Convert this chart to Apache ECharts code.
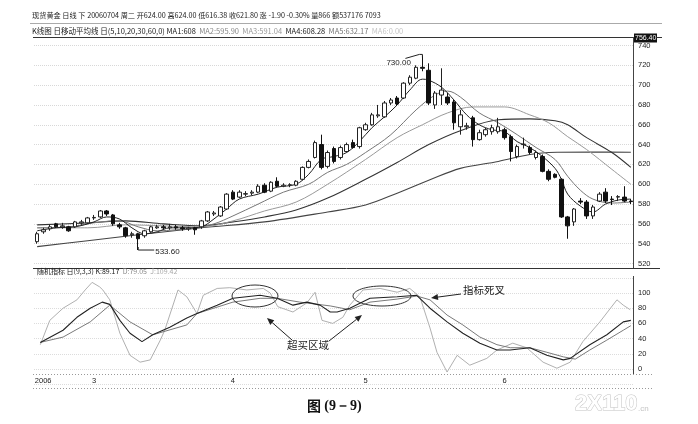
<!DOCTYPE html>
<html><head><meta charset="utf-8">
<script src="https://cdn.jsdelivr.net/npm/echarts@6/dist/echarts.min.js"></script>
<style>html,body{margin:0;padding:0;background:#fff}#c{width:698px;height:424px}</style>
</head><body><div id="c"></div>
<script>
// ---- candle data (one per trading day, Feb–Jul 2006) ----
const opens  = [542,552,555,560,557,557,557,561,561,566,567,573,569,559,556,549,550,548,552,556,557,556,557,556,555,556,557,563,570,568,575,592,587,590,591,592,599,593,603,598,599,599,605,617,627,640,618,636,627,633,642,638,655,660,669,668,682,687,687,702,707,718,715,680,690,688,683,658,658,667,645,650,653,653,655,648,628,640,637,627,628,613,610,605,567,562,583,582,568,583,592,585,587,587,583];
const closes = [550,554,557,557,558,553,562,562,566,566.5,573,570,560,557,548,550,545,553,557,557,556,557,556,555,556,554,563,572,571,577,590,585,592,590.5,592,598,592,602,598,599,599.5,603,617,623,642,617,632,623,637,640,637,657,660,670,670,682,685,681,702,708,718,717,682,692,695,682,662,670,659,645,652,655,657,658,647,633,638,640.5,632,632,613,605,607,567,558,575,582,568,577,590,583,584.5,587.5,583,582.5];
const lows   = [540,550,553,556,555,552,556,559,560,564,566,568,558,555,546,546,533.6,546,551,555,554,554,554,553,553,549,555,562,568,567,574,584,586,588,589,591,591,592,597,597,597,598,604,616,626,615,616,621,625,632,636,636,654,659,667,667,680,679,686,700,706,714,680,676,680,680,655,650,655,638,644,648,650,651,645,623,626,636,630,625,612,603,606,566,545,558,580,565,565,582,581,579,583,582,580];
const highs  = [552,556,559,561,561,558,563,564,567,569,574,574,570,561,557,552,551,554,558,559,559,560,559,558,557,557,564,573,573,578,591,594,594,593,594,600,601,603,607,601,601,604,618,625,644,650,634,638,639,642,645,658,662,672,680,684,687,689,703,710,720,730,722,694,717,692,685,675,662,669,655,657,660,667,657,650,640,647,639,634,630,615,611,606,568,576,586,584,579,592,596,588,589,598,585];

// ---- moving averages: [day index, value] ----
const ma5  = [[0,553],[3,556],[6,557],[9,562],[11,567],[13,565],[15,556],[17,550],[19,552],[21,556],[24,556],[26,557],[28,565],[30,575],[32,585],[35,590],[38,597],[41,600],[43,610],[45,625],[47,628],[49,632],[51,643],[53,657],[55,668],[57,680],[59,695],[61,706],[62,705],[64,698],[66,685],[68,670],[70,660],[72,655],[74,653],[76,643],[78,637],[80,628],[82,616],[83,605],[84,590],[86,578],[88,572],[90,580],[92,584],[94,585]];
const ma10 = [[0,556],[5,557],[10,562],[13,563],[16,557],[19,553],[22,554],[25,556],[28,560],[31,568],[35,580],[39,592],[43,600],[46,612],[49,620],[52,632],[56,650],[60,675],[63,690],[65,694],[67,688],[70,672],[73,662],[76,650],[79,637],[82,625],[84,608],[86,594],[88,585],[91,581],[94,582]];
const ma20 = [[0,556],[8,556],[14,559],[20,558],[26,557],[31,563],[36,573],[41,582],[46,600],[52,625],[57,647],[61,660],[65,672],[69,678],[74,678],[78,670],[81,662],[84,648],[87,635],[91,615],[94,600]];
const ma30 = [[0,559],[8,561],[14,563],[20,560],[26,558],[31,562],[36,567],[41,574],[46,586],[52,605],[57,622],[62,640],[67,654],[73,665],[78,666],[82,664],[84,660],[87,647],[91,632],[94,617]];
const ma60 = [[0,537],[8,543],[16,549],[26,556],[36,562],[46,572],[52,579],[57,591],[62,604],[67,616],[73,623],[78,630],[81,632],[88,632.5],[94,632.2]];

// ---- KDJ: [day index, value] ----
const kLine = [[0.5,35],[4.1,51],[6.3,68],[8.4,80],[10.3,88],[11.5,85],[13.1,64],[14.7,47],[16.6,36],[18.3,45],[21,55],[23.7,67],[25.3,73],[28.5,84],[31,93],[35.3,97],[38,93],[40.5,84],[42.7,88],[44.8,84],[46.4,75],[47.5,75],[49.5,80],[52.7,93],[57,95],[60.1,97],[62.2,80],[64.9,62],[67.4,47],[70.1,34],[72.8,25],[74.9,25],[78,28],[80.7,18],[83.3,12],[84.4,14],[87.5,32],[90.2,45],[92.8,62],[94,64]];
const dLine = [[0.5,35],[4.1,42],[8.4,62],[11.5,84],[14.7,62],[18.3,45],[23.7,58],[25.3,73],[31,88],[35.3,93],[38,93],[41.6,88],[46.4,83],[49.5,78],[52.7,88],[57,92],[60.1,96],[62.2,91],[64.9,71],[67.4,58],[70.1,42],[72.8,32],[74.9,28],[78,28],[80.7,22],[83.3,16],[85.2,13],[87.5,25],[90.2,38],[92.8,51],[94,57]];
const jLine = [[0.5,32],[2,64],[4.1,80],[6.3,91],[7.6,104],[8.7,114],[9.9,108],[10.4,104],[11.5,91],[13.1,47],[14.7,18],[16.3,9],[17.9,12],[19.5,38],[20.2,51],[22.3,104],[23.7,95],[25.3,73],[26.3,97],[28.5,106],[30.5,107],[33.2,104],[35.8,106],[36.9,100],[38.1,82],[40.5,75],[42.7,87],[44,101],[45.1,64],[46.8,60],[48.4,68],[49.5,84],[51.6,104],[54.3,106],[57,101],[59,106],[60.6,95],[62.2,54],[63.3,22],[64.9,-4],[66.5,18],[68.5,5],[71.2,14],[72.8,25],[75.3,34],[77.5,28],[80.1,9],[82.3,1],[84.4,9],[86.4,36],[89.1,62],[91.8,91],[92.8,84],[93.9,78]];

// ---- axis labels ----
const dateTickIdx  = [0, 9, 31, 52, 74];
const dateTickText = ['2006', '3', '4', '5', '6'];

const N = opens.length;
const cats = opens.map((_, i) => String(i));
const dateCats = cats.map((_, i) => { const k = dateTickIdx.indexOf(i); return k >= 0 ? dateTickText[k] : ''; });
const candleData = opens.map((o, i) => [o, closes[i], lows[i], highs[i]]);

const chart = echarts.init(document.getElementById('c'));
const axisFont = '"Liberation Sans", Arial, sans-serif';
const cjk = '"Noto Sans CJK SC", sans-serif';

function maSeries(data, color, width) {
  return { type: 'line', xAxisIndex: 0, yAxisIndex: 0, data: data, symbol: 'none', smooth: 0.35,
    lineStyle: { color: color, width: width }, z: 3, silent: true };
}
function kdjSeries(data, color, width) {
  return { type: 'line', xAxisIndex: 2, yAxisIndex: 1, data: data, symbol: 'none', clip: false,
    lineStyle: { color: color, width: width }, silent: true };
}

chart.setOption({
  animation: false,
  backgroundColor: '#fff',
  grid: [
    { left: 34, right: 64, top: 45.5, height: 218 },
    { left: 34, right: 64, top: 277.8, height: 106.4 }
  ],
  xAxis: [
    { type: 'category', gridIndex: 0, data: cats, show: false },
    { type: 'category', gridIndex: 1, data: dateCats, offset: -10,
      axisLine: { show: false }, axisTick: { show: false }, splitLine: { show: false },
      axisLabel: { interval: 0, fontSize: 7.5, margin: 3, color: '#222', fontFamily: axisFont,
        formatter: v => v === '2006' ? '{y|2006}' : v,
        rich: { y: { fontSize: 7.5, fontFamily: axisFont, color: '#222', padding: [0, 0, 0, 12] } } } },
    { type: 'value', gridIndex: 1, min: -0.5, max: N - 0.5, show: false }
  ],
  yAxis: [
    { type: 'value', gridIndex: 0, position: 'right', min: 520, max: 740, interval: 20,
      axisLine: { show: false }, axisTick: { show: false },
      splitLine: { lineStyle: { color: '#d8d8d8', type: 'dotted', width: 1 } },
      axisLabel: { fontSize: 7.5, margin: 4, color: '#222', fontFamily: axisFont } },
    { type: 'value', gridIndex: 1, position: 'right', min: -20, max: 120, interval: 20,
      axisLine: { show: false }, axisTick: { show: false },
      splitLine: { lineStyle: { color: '#dcdcdc', type: 'dotted', width: 1 } },
      axisLabel: { fontSize: 7.5, margin: 4, color: '#222', fontFamily: axisFont,
        formatter: v => (v < 0 || v > 100) ? '' : String(v) } }
  ],
  series: [
    maSeries(ma60, '#444', 1.1),
    maSeries(ma30, '#333', 1.1),
    maSeries(ma20, '#9a9a9a', 1),
    maSeries(ma10, '#777', 1),
    maSeries(ma5, '#222', 1),
    { type: 'candlestick', xAxisIndex: 0, yAxisIndex: 0, data: candleData, barWidth: 4, z: 5,
      itemStyle: { color: '#fff', color0: '#111', borderColor: '#222', borderColor0: '#111', borderWidth: 1 } },
    kdjSeries(jLine, '#b0b0b0', 1),
    kdjSeries(dLine, '#7a7a7a', 1),
    kdjSeries(kLine, '#222', 1.1)
  ]
});

// ---- annotations ----
const pLow  = chart.convertToPixel({ xAxisIndex: 0, yAxisIndex: 0 }, [16, 533.6]);
const pHigh = chart.convertToPixel({ xAxisIndex: 0, yAxisIndex: 0 }, [61, 730]);

function arrow(x1, y1, x2, y2) {
  const a = Math.atan2(y2 - y1, x2 - x1), L = 7, W = 3;
  const bx = x2 - L * Math.cos(a), by = y2 - L * Math.sin(a);
  const px = -Math.sin(a) * W, py = Math.cos(a) * W;
  return [
    { type: 'line', z: 100, shape: { x1: x1, y1: y1, x2: bx, y2: by }, style: { stroke: '#222', lineWidth: 1 } },
    { type: 'polygon', z: 100, shape: { points: [[x2, y2], [bx + px, by + py], [bx - px, by - py]] }, style: { fill: '#222' } }
  ];
}
function txt(x, y, text, size, fill, family) {
  return { type: 'text', z: 100, x: x, y: y,
    style: { text: text, fill: fill || '#222', font: size + 'px ' + (family || cjk), textVerticalAlign: 'middle' } };
}
function richTxt(x, y, text, rich) {
  return { type: 'text', z: 100, x: x, y: y, style: { text: text, textVerticalAlign: 'middle', rich: rich } };
}
function rs(size, fill) { return { fontSize: size, fontFamily: cjk, fill: fill }; }
function hline(x1, x2, y, color, dash, w) {
  return { type: 'line', z: 90, shape: { x1: x1, y1: y, x2: x2, y2: y },
    style: { stroke: color, lineWidth: w || 1, lineDash: dash || null } };
}
function vline(x, y1, y2, color) {
  return { type: 'line', z: 90, shape: { x1: x, y1: y1, x2: x, y2: y2 }, style: { stroke: color, lineWidth: 1 } };
}

const g = [
  // frame lines
  hline(30, 662, 23.5, '#aaa'),
  hline(33, 662, 37.5, '#333'),
  hline(33, 660, 268.5, '#333'),
  vline(633.5, 37, 268, '#444'),
  vline(633.5, 276, 374, '#444'),
  hline(33, 652, 374.5, '#999', [1, 2]),
  hline(33, 652, 388.5, '#999', [1, 2]),
  // header row 1
  txt(32, 15, '现货黄金 日线 下 20060704 周二 开624.00 高624.00 低616.38 收621.80 涨 -1.90 -0.30% 量866 额537176 7093', 7.2, '#222'),
  // header row 2
  richTxt(32, 31, '{d|K线图 日移动平均线 日(5,10,20,30,60,0) MA1:608} {a|MA2:595.90} {b|MA3:591.04} {d|MA4:608.28} {c|MA5:632.17} {e|MA6:0.00}',
    { d: rs(7.5, '#222'), a: rs(7.5, '#888'), b: rs(7.5, '#9a9a9a'), c: rs(7.5, '#777'), e: rs(7.5, '#c4c4c4') }),
  // top value box
  { type: 'rect', z: 100, shape: { x: 634, y: 33.5, width: 23, height: 9 }, style: { fill: '#111' } },
  txt(635, 38, '756.40', 7, '#fff', axisFont),
  // KDJ title
  richTxt(37, 271.5, '{d|随机指标 日(9,3,3) K:89.17} {a|D:79.05} {b|J:109.42}',
    { d: rs(7, '#222'), a: rs(7, '#888'), b: rs(7, '#aaa') }),
  // price annotations
  { type: 'polyline', z: 100, shape: { points: [[pLow[0], pLow[1] - 3], [pLow[0], pLow[1]], [pLow[0] + 16, pLow[1]]] }, style: { stroke: '#222', lineWidth: 1, fill: null } },
  txt(pLow[0] + 17, pLow[1] + 2, '533.60', 8, '#222', axisFont),
  { type: 'polyline', z: 100, shape: { points: [[pHigh[0] - 17, pHigh[1] + 3], [pHigh[0] - 3, pHigh[1] - 1], [pHigh[0], pHigh[1] - 1], [pHigh[0], pHigh[1] + 2]] }, style: { stroke: '#222', lineWidth: 1, fill: null } },
  txt(pHigh[0] - 36, pHigh[1] + 7, '730.00', 8, '#222', axisFont),
  // KDJ ellipses & notes
  { type: 'ellipse', z: 100, shape: { cx: 255, cy: 296, rx: 23, ry: 11 }, style: { stroke: '#333', fill: null, lineWidth: 1 } },
  { type: 'ellipse', z: 100, shape: { cx: 382, cy: 296, rx: 29, ry: 10 }, style: { stroke: '#333', fill: null, lineWidth: 1 } },
  txt(287, 345, '超买区域', 10.5, '#222'),
  txt(463, 290, '指标死叉', 10.5, '#222'),
  ...arrow(292, 340, 267, 318),
  ...arrow(329, 341, 362, 315),
  ...arrow(461, 294, 431, 298),
  // caption
  { type: 'text', z: 100, x: 307, y: 406, style: { text: '{a|图} {b|(9－9)}', textVerticalAlign: 'middle',
      rich: { a: { fontSize: 14, fontWeight: 'bold', fontFamily: cjk, fill: '#111' },
              b: { fontSize: 14, fontWeight: 'bold', fontFamily: '"Liberation Serif", serif', fill: '#111' } } } },
  // watermark
  { type: 'text', z: 100, x: 575, y: 404, style: { text: '2X110', fill: '#fff', stroke: '#c4c4c4', lineWidth: 1,
      font: 'bold 22px ' + axisFont, textVerticalAlign: 'middle' } },
  { type: 'text', z: 100, x: 638, y: 409, style: { text: '.cn', fill: '#c4c4c4', font: '8px ' + axisFont, textVerticalAlign: 'middle' } }
];
chart.setOption({ graphic: g });
</script>
</body></html>
